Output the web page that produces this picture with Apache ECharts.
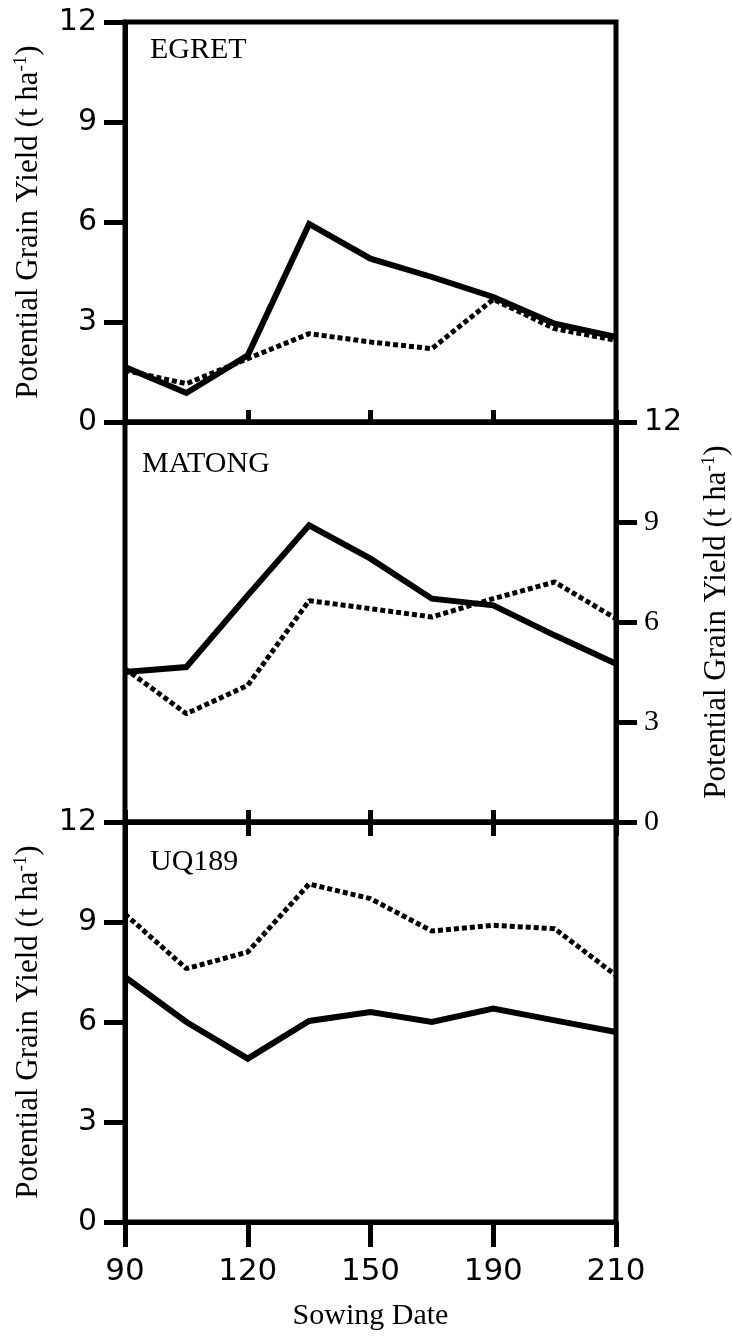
<!DOCTYPE html>
<html>
<head>
<meta charset="utf-8">
<script src="https://cdn.jsdelivr.net/npm/echarts@6/dist/echarts.min.js"></script>
<style>
html,body{margin:0;padding:0;background:#fff;}
#chart{width:732px;height:1338px;}
</style>
</head>
<body>
<div id="chart"></div>
<script>
// ---- data ----
const sowingDates = [90, 105, 120, 135, 150, 165, 180, 195, 210];
const xTickValues = [90, 120, 150, 180, 210];
const xTickLabels = ['90', '120', '150', '190', '210'];
const yTickValues = [0, 3, 6, 9, 12];
const panelNames = ['EGRET', 'MATONG', 'UQ189'];

const egretSolid  = [1.65, 0.87, 2.0, 5.94, 4.9, 4.35, 3.75, 2.95, 2.55];
const egretDotted = [1.55, 1.15, 1.9, 2.65, 2.4, 2.2, 3.68, 2.8, 2.45];
const matongSolid  = [4.5, 4.65, 6.8, 8.9, 7.9, 6.7, 6.5, 5.6, 4.75];
const matongDotted = [4.6, 3.25, 4.1, 6.64, 6.4, 6.15, 6.7, 7.2, 6.1];
const uqSolid  = [7.35, 6.0, 4.9, 6.03, 6.3, 6.0, 6.4, 6.05, 5.7];
const uqDotted = [9.24, 7.6, 8.1, 10.14, 9.7, 8.73, 8.9, 8.8, 7.4];

const yTitle = '{a|Potential Grain Yield (t ha}{s|-1}{a|)}';
const xTitle = 'Sowing Date';

// ---- styling ----
const SERIF = 'Liberation Serif';
const SANS = 'DejaVu Sans';
const BLACK = '#000';
const LEFT = 125, RIGHT = 732 - 616, TOP = 22, H = 400;

const chart = echarts.init(document.getElementById('chart'));

const grids = [0, 1, 2].map(i => ({
  left: LEFT, right: RIGHT, top: TOP + i * H, height: H,
  containLabel: false, outerBoundsMode: 'none',
  show: true, borderColor: BLACK, borderWidth: 5, backgroundColor: 'transparent'
}));

function xAxis(gridIndex, position, tickInside, tickLen, showLabel) {
  return {
    type: 'value', gridIndex, position, min: 90, max: 210, interval: 30,
    axisLine: { show: true, lineStyle: { color: BLACK, width: 5 } },
    axisTick: { show: true, inside: tickInside, length: tickLen, lineStyle: { color: BLACK, width: 5 } },
    splitLine: { show: false },
    axisLabel: {
      show: showLabel, margin: 34, color: BLACK, fontFamily: SANS, fontSize: 31,
      formatter: v => xTickLabels[xTickValues.indexOf(v)] || ''
    },
    name: showLabel ? xTitle : '',
    nameLocation: 'middle', nameGap: 79,
    nameTextStyle: { fontFamily: SERIF, fontSize: 30, color: BLACK }
  };
}

const titleRich = {
  a: { fontFamily: SERIF, fontSize: 31, color: BLACK, lineHeight: 34 },
  s: { fontFamily: SERIF, fontSize: 19, color: BLACK, verticalAlign: 'top', lineHeight: 34 }
};

function yAxis(gridIndex, position, labelFormatter, rich) {
  return {
    type: 'value', gridIndex, position, min: 0, max: 12, interval: 3,
    axisLine: { show: true, lineStyle: { color: BLACK, width: 5 } },
    axisTick: { show: true, inside: false, length: 21, lineStyle: { color: BLACK, width: 5 } },
    splitLine: { show: false },
    axisLabel: {
      show: true, margin: 28, color: BLACK, fontFamily: SANS, fontSize: 30,
      formatter: labelFormatter, rich: rich
    },
    name: yTitle, nameLocation: 'middle', nameRotate: 90, nameGap: position === 'left' ? 79 : 84,
    nameTextStyle: { rich: titleRich }
  };
}

const xAxes = [
  xAxis(0, 'bottom', true, 12, false),
  xAxis(1, 'top', true, 14, false),
  xAxis(1, 'bottom', true, 12, false),
  xAxis(2, 'top', true, 14, false),
  xAxis(2, 'bottom', false, 25, true)
];

const yAxes = [
  yAxis(0, 'left', v => String(v)),
  yAxis(1, 'right', v => (v === 12 ? '{s|12}' : '{r|' + v + '}'), {
    s: { fontFamily: SANS, fontSize: 30, color: BLACK },
    r: { fontFamily: SERIF, fontSize: 30, color: BLACK }
  }),
  yAxis(2, 'left', v => String(v))
];

function pairs(arr) { return sowingDates.map((d, i) => [d, arr[i]]); }

function solid(arr, xi, yi) {
  return {
    type: 'line', xAxisIndex: xi, yAxisIndex: yi, data: pairs(arr),
    showSymbol: false, symbol: 'none', animation: false, silent: true,
    lineStyle: { color: BLACK, width: 6, type: 'solid', join: 'miter' }
  };
}
function dotted(arr, xi, yi) {
  return {
    type: 'line', xAxisIndex: xi, yAxisIndex: yi, data: pairs(arr),
    showSymbol: false, symbol: 'none', animation: false, silent: true,
    lineStyle: { color: BLACK, width: 5, type: [5, 3] }
  };
}

const labelPos = [
  { left: 150, y: 52 },
  { left: 142, y: 466 },
  { left: 150, y: 864 }
];

chart.setOption({
  backgroundColor: '#fff',
  animation: false,
  grid: grids,
  xAxis: xAxes,
  yAxis: yAxes,
  graphic: panelNames.map((n, i) => ({
    type: 'text', left: labelPos[i].left, top: labelPos[i].y - 17,
    style: { text: n, fontFamily: SERIF, fontSize: 30, fill: BLACK }
  })),
  series: [
    dotted(egretDotted, 0, 0),
    solid(egretSolid, 0, 0),
    dotted(matongDotted, 1, 1),
    solid(matongSolid, 1, 1),
    dotted(uqDotted, 3, 2),
    solid(uqSolid, 3, 2)
  ]
});
</script>
</body>
</html>
